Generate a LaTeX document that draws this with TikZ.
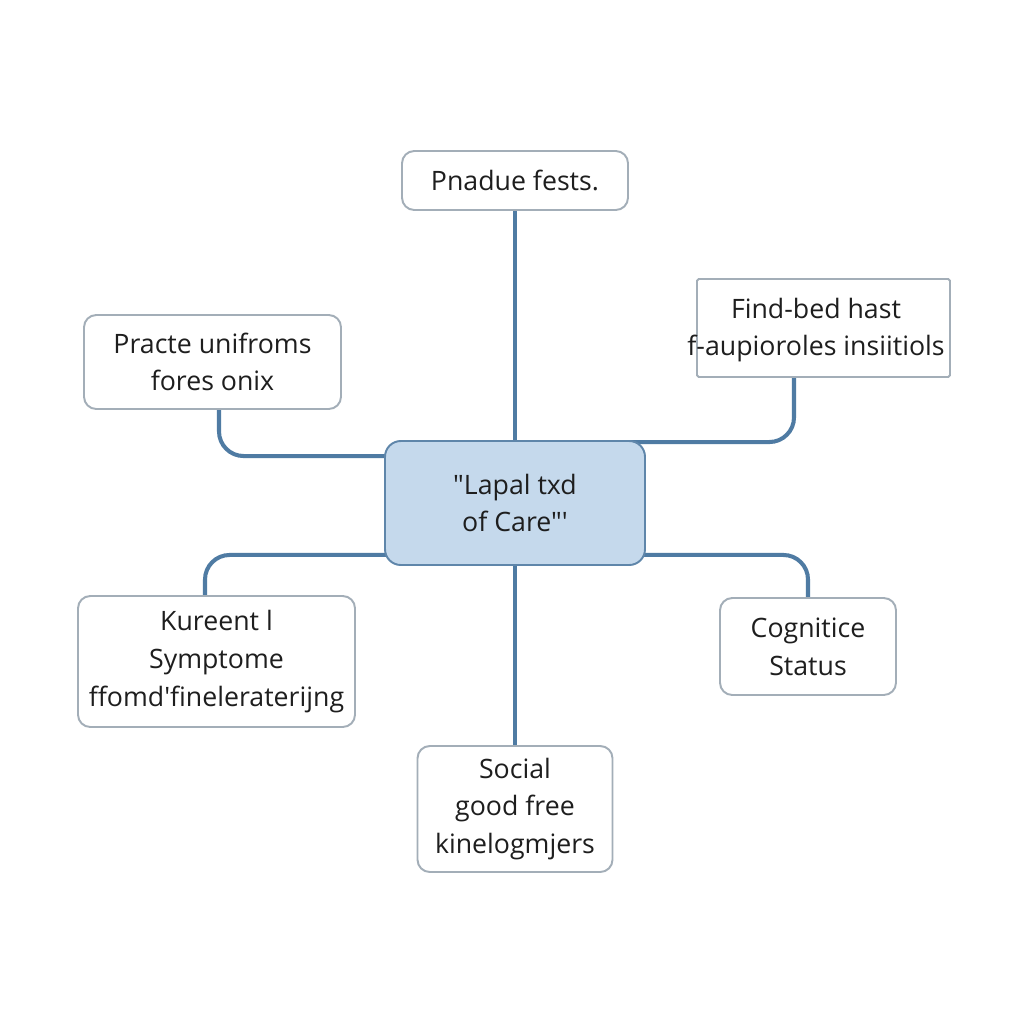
\documentclass[tikz,border=0pt]{standalone}
\usepackage{fontspec}
\setmainfont{Open Sans}[Ligatures=TeXOff]
\usetikzlibrary{calc,backgrounds}
\definecolor{connc}{HTML}{4F7BA3}
\definecolor{boxline}{HTML}{A3AEB8}
\definecolor{centfill}{HTML}{C5D9EC}
\definecolor{centline}{HTML}{5F86AA}
\definecolor{txt}{HTML}{1E1E1E}
\begin{document}
\begin{tikzpicture}[x=0.02cm,y=-0.02cm,
  box/.style={draw=boxline,line width=1.1pt,rounded corners=7pt,fill=white,align=center,inner sep=0pt,
    text=txt,font=\fontsize{15.2}{21.5}\selectfont},
  conn/.style={draw=connc,line width=2.3pt,rounded corners=14pt}]
\useasboundingbox (0,0) rectangle (1024,1024);
\node[box,minimum width=226*0.02cm,minimum height=59*0.02cm] (top) at (515,180.5) {Pnadue fests.};
\node[box,rounded corners=1pt,minimum width=253*0.02cm,minimum height=98*0.02cm] (tr) at (823.5,328) {};
\node[align=center,text=txt,font=\fontsize{15.2}{21.5}\selectfont,inner sep=0pt] (trtext) at (816,330) {Find-bed hast\\f-aupioroles insiitiols};
\node[box,minimum width=257*0.02cm,minimum height=94*0.02cm] (left) at (212.5,362) {Practe unifroms\\fores onix};
\node[box,draw=centline,fill=centfill,rounded corners=9pt,minimum width=260*0.02cm,minimum height=124*0.02cm] (center) at (515,503) {"Lapal txd\\of Care"'};
\node[box,minimum width=277*0.02cm,minimum height=131*0.02cm] (bl) at (216.5,661.5) {Kureent l\\Symptome\\ffomd'fineleraterijng};
\node[box,minimum width=176*0.02cm,minimum height=97*0.02cm] (right) at (808,646.5) {Cognitice\\Status};
\node[box,minimum width=195*0.02cm,minimum height=126*0.02cm] (bottom) at (515,809) {Social\\good free\\kinelogmjers};
\begin{scope}[on background layer]
\fill[white] (0,0) rectangle (1024,1024);
\draw[conn] (top.south) -- (center.north);
\draw[conn] (center.south) -- (bottom.north);
\draw[conn] ($(left.south)+(6.5,0)$) |- ($(center.north west)+(20,16)$);
\draw[conn] ($(center.north east)+(-20,2)$) -| ($(tr.south)+(-29.5,0)$);
\draw[conn] ($(center.south west)+(20,-11)$) -| ($(bl.north)+(-11.5,0)$);
\draw[conn] ($(center.south east)+(-20,-11)$) -| (right.north);
\end{scope}
\end{tikzpicture}
\end{document}
